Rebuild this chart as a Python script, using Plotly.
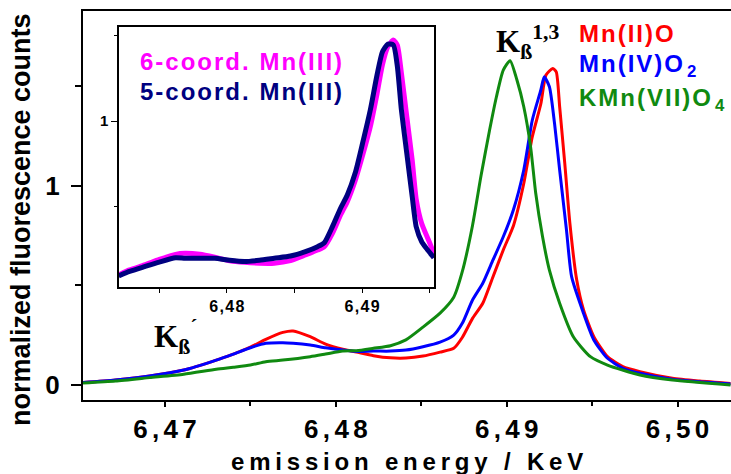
import plotly.graph_objects as go

# ---------------- data ----------------
red_E = [6.4652, 6.4671, 6.4691, 6.4711, 6.4730, 6.4740, 6.4750, 6.4759, 6.4769, 6.4775,
         6.4785, 6.4794, 6.4804, 6.4812, 6.4822, 6.4832, 6.4841, 6.4851, 6.4861, 6.4869,
         6.4874, 6.4880, 6.4886, 6.4892, 6.4898, 6.4904, 6.4910, 6.4915, 6.4920, 6.4923,
         6.4927, 6.4929, 6.4931, 6.4934, 6.4937, 6.4941, 6.4945, 6.4951, 6.4959, 6.4968,
         6.4978, 6.4997, 6.5013, 6.5031]
red_I = [0.012, 0.025, 0.045, 0.075, 0.125, 0.155, 0.190, 0.229, 0.264, 0.271,
         0.242, 0.205, 0.179, 0.165, 0.147, 0.136, 0.135, 0.145, 0.165, 0.184,
         0.238, 0.334, 0.410, 0.543, 0.677, 0.800, 1.010, 1.245, 1.410, 1.554,
         1.587, 1.570, 1.395, 1.111, 0.810, 0.526, 0.376, 0.242, 0.142, 0.092,
         0.067, 0.034, 0.020, 0.008]

blue_E = [6.4652, 6.4671, 6.4691, 6.4711, 6.4730, 6.4740, 6.4750, 6.4759, 6.4769, 6.4775,
          6.4785, 6.4794, 6.4804, 6.4812, 6.4822, 6.4832, 6.4841, 6.4851, 6.4861, 6.4869,
          6.4874, 6.4880, 6.4886, 6.4892, 6.4898, 6.4904, 6.4910, 6.4915, 6.4920, 6.4922,
          6.4925, 6.4928, 6.4931, 6.4935, 6.4938, 6.4945, 6.4951, 6.4959, 6.4968, 6.4978,
          6.4997, 6.5013, 6.5031]
blue_I = [0.012, 0.025, 0.045, 0.075, 0.125, 0.155, 0.187, 0.209, 0.212, 0.209,
          0.200, 0.187, 0.175, 0.168, 0.170, 0.170, 0.175, 0.192, 0.215, 0.250,
          0.309, 0.426, 0.510, 0.627, 0.743, 0.880, 1.078, 1.328, 1.479, 1.545,
          1.495, 1.312, 1.078, 0.777, 0.543, 0.359, 0.226, 0.134, 0.084, 0.059,
          0.029, 0.016, 0.005]

green_E = [6.4652, 6.4671, 6.4691, 6.4711, 6.4730, 6.4740, 6.4750, 6.4759, 6.4769, 6.4785,
           6.4794, 6.4804, 6.4812, 6.4822, 6.4832, 6.4841, 6.4851, 6.4861, 6.4869, 6.4874,
           6.4880, 6.4885, 6.4890, 6.4894, 6.4898, 6.4902, 6.4906, 6.4910, 6.4914, 6.4917,
           6.4921, 6.4925, 6.4931, 6.4939, 6.4949, 6.4959, 6.4978, 6.4997, 6.5031]
green_I = [0.010, 0.020, 0.037, 0.054, 0.079, 0.089, 0.100, 0.117, 0.125, 0.142,
           0.155, 0.170, 0.172, 0.184, 0.197, 0.226, 0.290, 0.360, 0.440, 0.568,
           0.800, 1.050, 1.278, 1.445, 1.579, 1.626, 1.529, 1.395, 1.194, 0.961,
           0.743, 0.576, 0.410, 0.242, 0.142, 0.100, 0.050, 0.025, 0.000]

inset_E = [6.4720, 6.4728, 6.4739, 6.4750, 6.4762, 6.4769, 6.4780, 6.4791, 6.4802, 6.4813,
           6.4824, 6.4835, 6.4847, 6.4858, 6.4867, 6.4872, 6.4878, 6.4884, 6.4889, 6.4895,
           6.4900, 6.4906, 6.4911, 6.4915, 6.4919, 6.4923, 6.4926, 6.4929, 6.4933, 6.4937,
           6.4940, 6.4944, 6.4948, 6.4952, 6.4953]
six_coord = [0.100, 0.129, 0.158, 0.190, 0.220, 0.226, 0.220, 0.203, 0.183, 0.173,
             0.168, 0.168, 0.183, 0.216, 0.245, 0.265, 0.343, 0.450, 0.528, 0.655,
             0.790, 0.967, 1.160, 1.330, 1.435, 1.474, 1.444, 1.280, 1.025, 0.770,
             0.540, 0.400, 0.323, 0.245, 0.216]
five_coord = [0.094, 0.120, 0.148, 0.175, 0.200, 0.197, 0.197, 0.197, 0.185, 0.178,
              0.185, 0.197, 0.210, 0.236, 0.265, 0.288, 0.382, 0.490, 0.567, 0.700,
              0.860, 1.064, 1.270, 1.405, 1.450, 1.445, 1.320, 1.064, 0.810, 0.557,
              0.380, 0.294, 0.250, 0.210, 0.200]

main_ticks = [6.47, 6.48, 6.49, 6.50]
main_ticktext = ["6,47", "6,48", "6,49", "6,50"]
inset_ticks = [6.48, 6.49]
inset_ticktext = ["6,48", "6,49"]

# ---------------- layout helpers ----------------
W, H = 731, 474
L, R, T, B = 83, 0, 11, 74
PW, PH = W - L - R, H - T - B
SANS = "Liberation Sans, Arial, sans-serif"
SERIF = "Liberation Serif, Times New Roman, serif"
HAIR = "\u200a"
THIN = "\u2009"


def px(x):
    return (x - L) / PW


def py(y):
    return (H - B - y) / PH


def spaced(s, sep=HAIR):
    return sep.join(s)


LS = dict(shape="spline", smoothing=0.6)

fig = go.Figure()
fig.add_trace(go.Scatter(x=red_E, y=red_I, mode="lines",
                         line=dict(color="#ff0000", width=3, **LS), showlegend=False))
fig.add_trace(go.Scatter(x=blue_E, y=blue_I, mode="lines",
                         line=dict(color="#0000ff", width=3, **LS), showlegend=False))
fig.add_trace(go.Scatter(x=green_E, y=green_I, mode="lines",
                         line=dict(color="#108a10", width=3, **LS), showlegend=False))
fig.add_trace(go.Scatter(x=inset_E, y=six_coord, mode="lines",
                         line=dict(color="#ff00ff", width=5, **LS),
                         xaxis="x2", yaxis="y2", showlegend=False))
fig.add_trace(go.Scatter(x=inset_E, y=five_coord, mode="lines",
                         line=dict(color="#000080", width=5, **LS),
                         xaxis="x2", yaxis="y2", showlegend=False))

fig.update_layout(
    width=W, height=H,
    margin=dict(l=L, r=R, t=T, b=B, pad=0),
    paper_bgcolor="white", plot_bgcolor="white",
    xaxis=dict(range=[6.4652, 6.50313], domain=[0, 1], tickvals=main_ticks,
               ticktext=[spaced(t, "\u2006") for t in main_ticktext],
               ticks="outside", ticklen=5, tickwidth=1.5, tickcolor="black",
               minor=dict(tickvals=[6.475, 6.485, 6.495], ticks="outside", ticklen=4,
                          tickwidth=1.5, tickcolor="black"),
               showline=True, linecolor="black", linewidth=2, mirror=True,
               showgrid=False, zeroline=False,
               tickfont=dict(family=SANS, size=26, color="black", weight="bold")),
    yaxis=dict(range=[-0.0752, 1.875], domain=[0, 1], tickvals=[0, 1], ticktext=["0", "1"],
               ticks="outside", ticklen=10, tickwidth=1.5, tickcolor="black",
               minor=dict(tickvals=[0.5, 1.5], ticks="outside", ticklen=6,
                          tickwidth=1.5, tickcolor="black"),
               showline=True, linecolor="black", linewidth=2, mirror=False,
               showgrid=False, zeroline=False, ticklabelstandoff=6,
               tickfont=dict(family=SANS, size=26, color="black", weight="bold")),
    xaxis2=dict(range=[6.47202, 6.49531], domain=[px(119), px(434)], anchor="y2",
                tickvals=inset_ticks, ticktext=[spaced(t, HAIR) for t in inset_ticktext],
                ticks="outside", ticklen=4, tickwidth=1, tickcolor="black",
                minor=dict(tickvals=[6.475, 6.485, 6.495], ticks="outside", ticklen=4,
                           tickwidth=1, tickcolor="black"),
                showline=True, linecolor="black", linewidth=1.5, mirror=True,
                showgrid=False, zeroline=False,
                tickfont=dict(family=SANS, size=16, color="black", weight="bold")),
    yaxis2=dict(range=[0.029, 1.55], domain=[py(287), py(27)], anchor="x2",
                tickvals=[1], ticktext=["1"],
                ticks="outside", ticklen=6, tickwidth=1, tickcolor="black",
                minor=dict(tickvals=[0.5, 1.5], ticks="outside", ticklen=3,
                           tickwidth=1, tickcolor="black"),
                showline=True, linecolor="black", linewidth=1.5, mirror=True,
                showgrid=False, zeroline=False,
                tickfont=dict(family=SANS, size=15, color="black", weight="bold")),
)

ann = []
# axis titles
ann.append(dict(text=spaced("emission energy / KeV", THIN), x=0.5, y=py(461),
                xref="paper", yref="paper", xanchor="center", yanchor="middle", showarrow=False,
                font=dict(family=SANS, size=24, color="black", weight="bold")))
ann.append(dict(text="normalized fluorescence counts", x=px(21), y=py(220), textangle=-90,
                xref="paper", yref="paper", xanchor="center", yanchor="middle", showarrow=False,
                font=dict(family=SANS, size=27, color="black", weight="bold")))
# legend-like labels
leg = [("Mn(II)O", "", "#ff0000", 33),
       ("Mn(IV)O", "2", "#0000ff", 66),
       ("KMn(VII)O", "4", "#108a10", 99)]
for txt, sub, col, yc in leg:
    t = spaced(txt)
    if sub:
        t += HAIR + HAIR + "<sub>" + sub + "</sub>"
    ann.append(dict(text=t, x=px(577), y=py(yc), xref="paper", yref="paper",
                    xanchor="left", yanchor="middle", showarrow=False,
                    font=dict(family=SANS, size=24, color=col, weight="bold")))
for txt, col, yc in [("6-coord. Mn(III)", "#ff00ff", 61), ("5-coord. Mn(III)", "#000080", 91)]:
    ann.append(dict(text=spaced(txt), x=px(138), y=py(yc), xref="paper", yref="paper",
                    xanchor="left", yanchor="middle", showarrow=False,
                    font=dict(family=SANS, size=24, color=col, weight="bold")))
# peak labels
ann.append(dict(text="K<sub>ß</sub><sup>1,3</sup>", x=px(494), y=py(42), xref="paper", yref="paper",
                xanchor="left", yanchor="middle", showarrow=False,
                font=dict(family=SERIF, size=31, color="black", weight="bold")))
ann.append(dict(text="K<sub>ß</sub><sup>´</sup>", x=px(152), y=py(337), xref="paper", yref="paper",
                xanchor="left", yanchor="middle", showarrow=False,
                font=dict(family=SERIF, size=31, color="black", weight="bold")))
fig.update_layout(annotations=ann)

fig.write_html("out.html")
